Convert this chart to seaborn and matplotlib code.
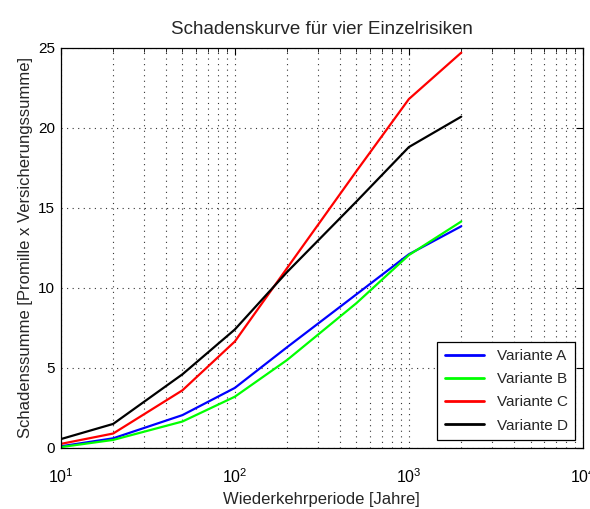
import numpy as np
import pandas as pd
import matplotlib
matplotlib.use("Agg")
import matplotlib.pyplot as plt
import seaborn as sns
from matplotlib.ticker import LogLocator, NullFormatter, FixedLocator

# Daten
jahre = [10, 20, 50, 100, 200, 500, 1000, 2000]
variante_a = [0.1, 0.6, 2.05, 3.75, 6.3, 9.6, 12.1, 13.85]
variante_b = [0.05, 0.5, 1.65, 3.2, 5.5, 9.05, 12.05, 14.15]
variante_c = [0.25, 0.9, 3.6, 6.65, 11.25, 17.3, 21.8, 24.7]
variante_d = [0.55, 1.5, 4.6, 7.4, 11.0, 15.4, 18.8, 20.7]
namen = ["Variante A", "Variante B", "Variante C", "Variante D"]
farben = ["#0000ff", "#00ff00", "#ff0000", "#000000"]

df = pd.DataFrame({
    "Jahre": jahre * 4,
    "Schaden": variante_a + variante_b + variante_c + variante_d,
    "Variante": [n for n in namen for _ in jahre],
})

sns.set_style("white")
plt.rcParams['font.family'] = ['Liberation Sans', 'DejaVu Sans']
plt.rcParams['mathtext.fontset'] = 'custom'
plt.rcParams['mathtext.rm'] = 'Liberation Sans'
plt.rcParams['mathtext.default'] = 'regular'

fig = plt.figure(figsize=(5.9, 5.09), dpi=100)
ax = fig.add_axes([0.103, 0.12, 0.885, 0.786])

sns.lineplot(data=df, x="Jahre", y="Schaden", hue="Variante",
             palette=dict(zip(namen, farben)), linewidth=1.6, ax=ax)

ax.set_xscale("log")
ax.set_xlim(10, 10000)
ax.set_ylim(0, 25)
ax.set_yticks([0, 5, 10, 15, 20, 25])
ax.xaxis.set_major_locator(FixedLocator([10, 100, 1000, 10000]))
ax.set_xticklabels([r"$10^{1}$", r"$10^{2}$", r"$10^{3}$", r"$10^{4}$"], fontsize=11.5)
ax.xaxis.set_minor_locator(LogLocator(base=10, subs=np.arange(2, 10)))
ax.xaxis.set_minor_formatter(NullFormatter())

ax.grid(True, which="major", linestyle=(0, (1, 4)), color="#333333", linewidth=0.8)
ax.grid(True, which="minor", axis="x", linestyle=(0, (1, 4)), color="#333333", linewidth=0.8)

ax.tick_params(axis="both", which="both", direction="in", top=True, right=True,
               colors="black")
ax.tick_params(axis="y", labelsize=11, length=5, pad=4)
ax.tick_params(axis="x", which="major", length=5, pad=14)
ax.tick_params(axis="x", which="minor", length=3)
for s in ax.spines.values():
    s.set_color("black")
    s.set_linewidth(0.9)

ax.set_xlabel("Wiederkehrperiode [Jahre]", fontsize=12)
ax.set_ylabel("Schadenssumme [Promille x Versicherungssumme]", fontsize=12)
ax.set_title("Schadenskurve für vier Einzelrisiken", fontsize=13.5, pad=10)

leg = ax.legend(loc="lower right", fontsize=11, frameon=True, fancybox=False,
                edgecolor="black", framealpha=1, handlelength=2.6,
                borderpad=0.5, labelspacing=0.6, borderaxespad=0.5)
leg.get_frame().set_linewidth(0.9)
for line in leg.get_lines():
    line.set_linewidth(2)

fig.savefig("out.png", dpi=100)
